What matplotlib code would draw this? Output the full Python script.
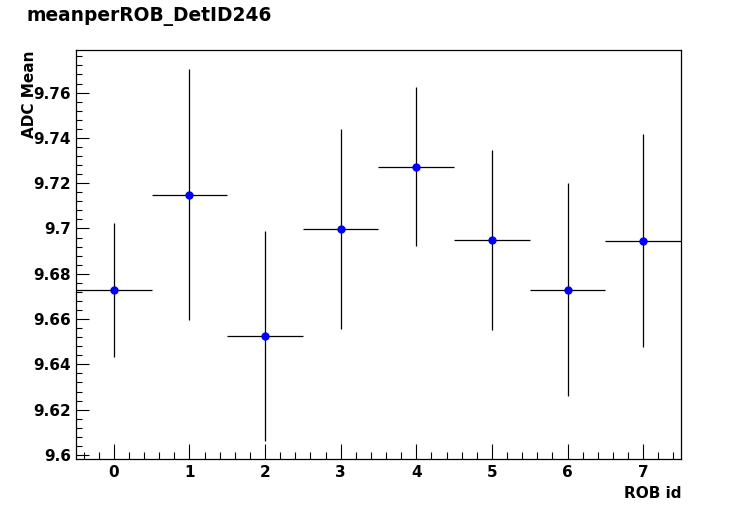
import numpy as np
import matplotlib
matplotlib.use("Agg")
import matplotlib.pyplot as plt
from matplotlib.ticker import MultipleLocator, FuncFormatter

rob_id = [0, 1, 2, 3, 4, 5, 6, 7]
adc_mean = [9.6729, 9.7149, 9.6525, 9.6999, 9.7273, 9.6950, 9.6730, 9.6946]
adc_err = [0.0296, 0.0555, 0.0463, 0.0441, 0.0351, 0.0398, 0.0469, 0.0469]
x_halfwidth = [0.5] * 8

title = "meanperROB_DetID246"
xlabel = "ROB id"
ylabel = "ADC Mean"

plt.rcParams['font.family'] = ['DejaVu Sans']
plt.rcParams['font.weight'] = 'bold'

fig = plt.figure(figsize=(7.56, 5.11), dpi=100)
ax = fig.add_axes([76/756, 1 - 459/511, (681-76)/756, (459-50)/511])

ax.errorbar(rob_id, adc_mean, xerr=x_halfwidth, yerr=adc_err, fmt='o',
            color='#0000ff', ecolor='black', elinewidth=0.9, capsize=0,
            markersize=6, markeredgewidth=0)

ax.set_xlim(-0.5, 7.5)
ax.set_ylim(9.5982, 9.7788)

ax.xaxis.set_major_locator(MultipleLocator(1))
ax.xaxis.set_minor_locator(MultipleLocator(0.2))
ax.yaxis.set_major_locator(MultipleLocator(0.02))
ax.yaxis.set_minor_locator(MultipleLocator(0.004))
ax.yaxis.set_major_formatter(FuncFormatter(lambda v, p: f"{round(v, 4):g}"))
ax.xaxis.set_major_formatter(FuncFormatter(lambda v, p: f"{int(round(v))}"))

for s in ['top', 'right', 'left', 'bottom']:
    ax.spines[s].set_linewidth(0.9)

ax.tick_params(which='both', direction='in', top=False, right=False, width=0.8)
ax.tick_params(axis='y', which='major', length=9.5, pad=3.5, labelsize=11)
ax.tick_params(axis='y', which='minor', length=4.5)
ax.tick_params(axis='x', which='major', length=10.5, pad=4, labelsize=11)
ax.tick_params(axis='x', which='minor', length=5)
for lab in ax.get_xticklabels() + ax.get_yticklabels():
    lab.set_fontweight('bold')

fig.text(26/756, 1 - 17/511, title, fontsize=13.4, fontweight='bold',
         ha='left', va='center')
fig.text(681/756, 1 - 494/511, xlabel, fontsize=11, fontweight='bold',
         ha='right', va='center')
fig.text(29/756, 1 - 50/511, ylabel, fontsize=11, fontweight='bold',
         ha='center', va='top', rotation=90)

fig.savefig("out.png", dpi=100)
